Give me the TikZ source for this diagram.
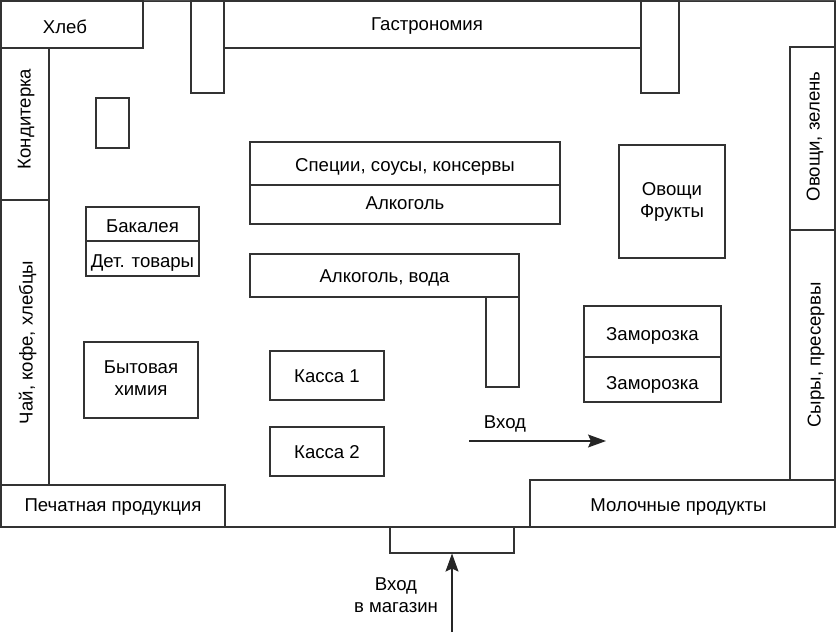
\documentclass[tikz,border=0pt]{standalone}
\usepackage{fontspec}
\setmainfont{Liberation Sans}
\usetikzlibrary{arrows.meta}
\begin{document}
\begin{tikzpicture}[x=1pt, y=-1pt,
box/.style={draw=black!80, line width=1.1pt, inner sep=0pt, align=center, font=\fontsize{18.6}{22}\selectfont},
lbl/.style={inner sep=0pt, align=center, font=\fontsize{18.6}{22}\selectfont},
base/.style={text height=#1, text depth=0pt},
way/.style={draw=black!85, line width=1.1pt, -{Stealth[length=18pt, width=13pt, inset=3pt]}}]
    \useasboundingbox (0,0) rectangle (837,632);

    % Walls
    \node (hall) [box, minimum width=834pt, minimum height=526pt] at (418,264) {};
    \draw[draw=black!70, line width=2pt] (hall.north west) -- (hall.north east);

    % Counters along the walls
    \node (bread) [box, base=17pt, minimum width=142pt, minimum height=47pt] at (72,24.5) {\hspace*{-14pt}Хлеб};
    \node (sweets) [box, base=11pt, rotate=90, minimum width=152pt, minimum height=48pt] at (25,124) {\hspace*{10pt}Кондитерка};
    \node (tea) [box, base=15pt, rotate=90, minimum width=285pt, minimum height=48pt] at (25,342.5) {Чай, кофе, хлебцы};
    \node (press) [box, base=10pt, minimum width=224pt, minimum height=42pt] at (113,506) {Печатная продукция};
    \node (postA) [box, minimum width=33pt, minimum height=92pt] at (207.5,47) {};
    \node (deli) [box, base=11pt, minimum width=417pt, minimum height=47pt] at (432.5,24.5) {\hspace*{-11pt}Гастрономия};
    \node (postB) [box, minimum width=38pt, minimum height=92pt] at (660,47) {};
    \node (greens) [box, base=14pt, rotate=90, minimum width=183pt, minimum height=45pt] at (812.5,138.5) {\hspace*{4pt}Овощи, зелень};
    \node (cheese) [box, base=16pt, rotate=90, minimum width=250pt, minimum height=45pt] at (812.5,355) {Сыры, пресервы};
    \node (dairy) [box, base=15pt, minimum width=305pt, minimum height=47pt] at (682.5,503.5) {\hspace*{-8pt}Молочные продукты};

    % Shelves
    \node (stand) [box, minimum width=33pt, minimum height=50pt] at (112.5,123) {};
    \node (spices) [box, base=15pt, minimum width=310pt, minimum height=43pt] at (405,163.5) {Специи, соусы, консервы};
    \node (wine) [box, base=9pt, minimum width=310pt, minimum height=39pt] at (405,204.5) {Алкоголь};
    \node (fruit) [box, minimum width=106pt, minimum height=113pt] at (672,201.5) {Овощи\\Фрукты};
    \node (grocery) [box, base=16pt, minimum width=113pt, minimum height=34pt] at (142.5,224) {Бакалея};
    \node (kids) [box, base=17pt, minimum width=113pt, minimum height=35pt] at (142.5,258.5) {Дет. товары};
    \node (water) [box, base=13pt, minimum width=269pt, minimum height=43pt] at (384.5,275.5) {Алкоголь, вода};
    \node (waterEnd) [box, minimum width=33pt, minimum height=90pt] at (502.5,342) {};
    \node (frozenA) [box, base=17pt, minimum width=137pt, minimum height=51pt] at (652.5,331.5) {Заморозка};
    \node (frozenB) [box, base=19pt, minimum width=137pt, minimum height=45pt] at (652.5,379.5) {Заморозка};
    \node (house) [box, base=30pt, minimum width=114pt, minimum height=76pt] at (141,380) {Бытовая\\химия};
    \node (till1) [box, base=13pt, minimum width=114pt, minimum height=49pt] at (327,375.5) {Касса 1};
    \node (till2) [box, base=13pt, minimum width=114pt, minimum height=49pt] at (327,451.5) {Касса 2};

    % Entrance
    \node (porch) [box, minimum width=124pt, minimum height=26pt] at (452,540) {};
    \node (entryText) [lbl] at (505,424) {Вход};
    \node (shopText) [lbl] at (396,595) {Вход\\в магазин};
    \coordinate (entryA) at (469,441);
    \coordinate (entryB) at (606,441);
    \coordinate (street) at (452,632);

    % Arrows
    \draw[way] (entryA) -- (entryB);
    \draw[way] (street) -- (porch.south);
\end{tikzpicture}
\end{document}
